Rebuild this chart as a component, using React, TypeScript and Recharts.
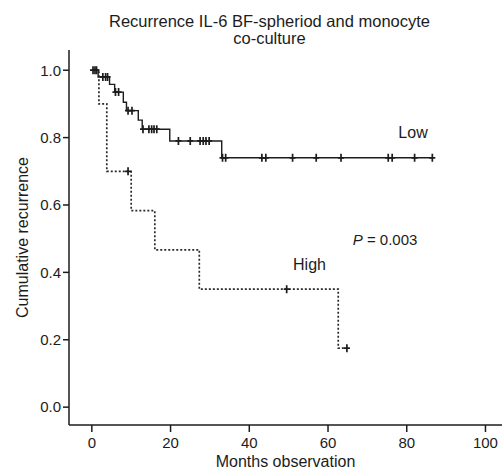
import {
  ComposedChart,
  Line,
  Scatter,
  XAxis,
  YAxis,
  Label,
  ReferenceDot,
} from 'recharts'

// Kaplan-Meier steps (months, cumulative proportion)
const lowTimes = [0, 1.6, 4.5, 5.8, 8, 8.8, 11.8, 12.8, 19.8, 33, 86.5]
const lowValues = [1.0, 0.98, 0.958, 0.935, 0.905, 0.88, 0.852, 0.825, 0.79, 0.74, 0.74]

const highTimes = [0, 1.8, 3.8, 10, 16, 27.3, 62.6, 64.8]
const highValues = [1.0, 0.9, 0.7, 0.583, 0.467, 0.35, 0.175, 0.175]

// censored observations
const lowCensorTimes = [
  0.3, 0.8, 1.2, 2.8, 3.5, 4.0, 6.0, 6.8, 9.2, 10.2, 13.0, 14.5, 15.2, 15.8,
  16.5, 22, 25, 27.5, 28.3, 29, 29.8, 33.2, 34.0, 43.2, 44.2, 51, 57, 63.3,
  75.3, 76.3, 82, 86.5,
]
const lowCensorValues = [
  1.0, 1.0, 1.0, 0.98, 0.98, 0.98, 0.935, 0.935, 0.88, 0.88, 0.825, 0.825,
  0.825, 0.825, 0.825, 0.79, 0.79, 0.79, 0.79, 0.79, 0.79, 0.74, 0.74, 0.74,
  0.74, 0.74, 0.74, 0.74, 0.74, 0.74, 0.74, 0.74,
]
const highCensorTimes = [9.2, 49.5, 64.8]
const highCensorValues = [0.7, 0.35, 0.175]

const xTicks = [0, 20, 40, 60, 80, 100]
const yTicks = [0, 0.2, 0.4, 0.6, 0.8, 1.0]

const title = ['Recurrence IL-6 BF-spheriod and monocyte', 'co-culture']

const zip = (ts: number[], vs: number[]) => ts.map((t, i) => ({ t, s: vs[i] }))

const lowData = zip(lowTimes, lowValues)
const highData = zip(highTimes, highValues)
const lowCensor = zip(lowCensorTimes, lowCensorValues)
const highCensor = zip(highCensorTimes, highCensorValues)

const FONT = '"Liberation Sans", Arial, Helvetica, sans-serif'
const INK = '#1c1c1c'

const CensorMark = (props: any) => {
  const { cx, cy } = props
  if (cx == null || cy == null) return null
  return (
    <path
      d={`M${cx},${cy - 4}V${cy + 4}M${cx - 3},${cy}H${cx + 3}`}
      stroke={INK}
      strokeWidth={1.7}
      fill='none'
    />
  )
}

const textAt =
  (value: string, italicP = false) =>
  (props: any) => {
    const { cx, cy } = props
    if (italicP) {
      return (
        <text x={cx} y={cy} textAnchor='middle' dominantBaseline='central' fontFamily={FONT} fontSize={15} fill={INK}>
          <tspan fontStyle='italic'>P</tspan>
          <tspan> = 0.003</tspan>
        </text>
      )
    }
    return (
      <text x={cx} y={cy} textAnchor='middle' dominantBaseline='central' fontFamily={FONT} fontSize={16} fill={INK}>
        {value}
      </text>
    )
  }

export default function App() {
  return (
    <div style={{ position: 'absolute', left: 0, top: 0, width: 502, height: 470, background: '#fff' }}>
      <div
        style={{
          position: 'absolute',
          left: 0,
          top: 13,
          width: 539,
          textAlign: 'center',
          fontFamily: FONT,
          fontSize: 16.5,
          lineHeight: '17px',
          color: INK,
        }}
      >
        {title.map((t) => (
          <div key={t}>{t}</div>
        ))}
      </div>
      <ComposedChart
        width={502}
        height={470}
        margin={{ top: 50, right: 0, bottom: 0, left: 0 }}
        style={{ position: 'absolute', left: 0, top: 0 }}
      >
        <XAxis
          dataKey='t'
          type='number'
          domain={[-5.8, 104.2]}
          ticks={xTicks}
          allowDataOverflow
          height={45}
          tickSize={7}
          tickMargin={5}
          stroke={INK}
          strokeWidth={1.5}
          tick={{ fill: INK, fontSize: 15, fontFamily: FONT }}
        >
          <Label
            value='Months observation'
            position='insideBottom'
            offset={3}
            style={{ fill: INK, fontSize: 16, fontFamily: FONT }}
          />
        </XAxis>
        <YAxis
          type='number'
          domain={[-0.053, 1.06]}
          ticks={yTicks}
          allowDataOverflow
          width={69}
          tickSize={6}
          tickMargin={2}
          stroke={INK}
          strokeWidth={1.5}
          tickFormatter={(v: number) => v.toFixed(1)}
          tick={{ fill: INK, fontSize: 15, fontFamily: FONT }}
        >
          <Label
            value='Cumulative recurrence'
            angle={-90}
            position='insideLeft'
            offset={22}
            style={{ textAnchor: 'middle', fill: INK, fontSize: 16, fontFamily: FONT }}
          />
        </YAxis>
        <Line
          data={highData}
          dataKey='s'
          type='stepAfter'
          stroke='#2a2a2a'
          strokeWidth={1.7}
          strokeDasharray='2 2'
          dot={false}
          activeDot={false}
          isAnimationActive={false}
        />
        <Line
          data={lowData}
          dataKey='s'
          type='stepAfter'
          stroke={INK}
          strokeWidth={1.4}
          dot={false}
          activeDot={false}
          isAnimationActive={false}
        />
        <Scatter data={lowCensor} dataKey='s' shape={CensorMark} isAnimationActive={false} />
        <Scatter data={highCensor} dataKey='s' shape={CensorMark} isAnimationActive={false} />
        <ReferenceDot x={81.6} y={0.816} r={0} shape={textAt('Low')} />
        <ReferenceDot x={55.3} y={0.422} r={0} shape={textAt('High')} />
        <ReferenceDot x={74.5} y={0.499} r={0} shape={textAt('', true)} />
      </ComposedChart>
    </div>
  )
}
